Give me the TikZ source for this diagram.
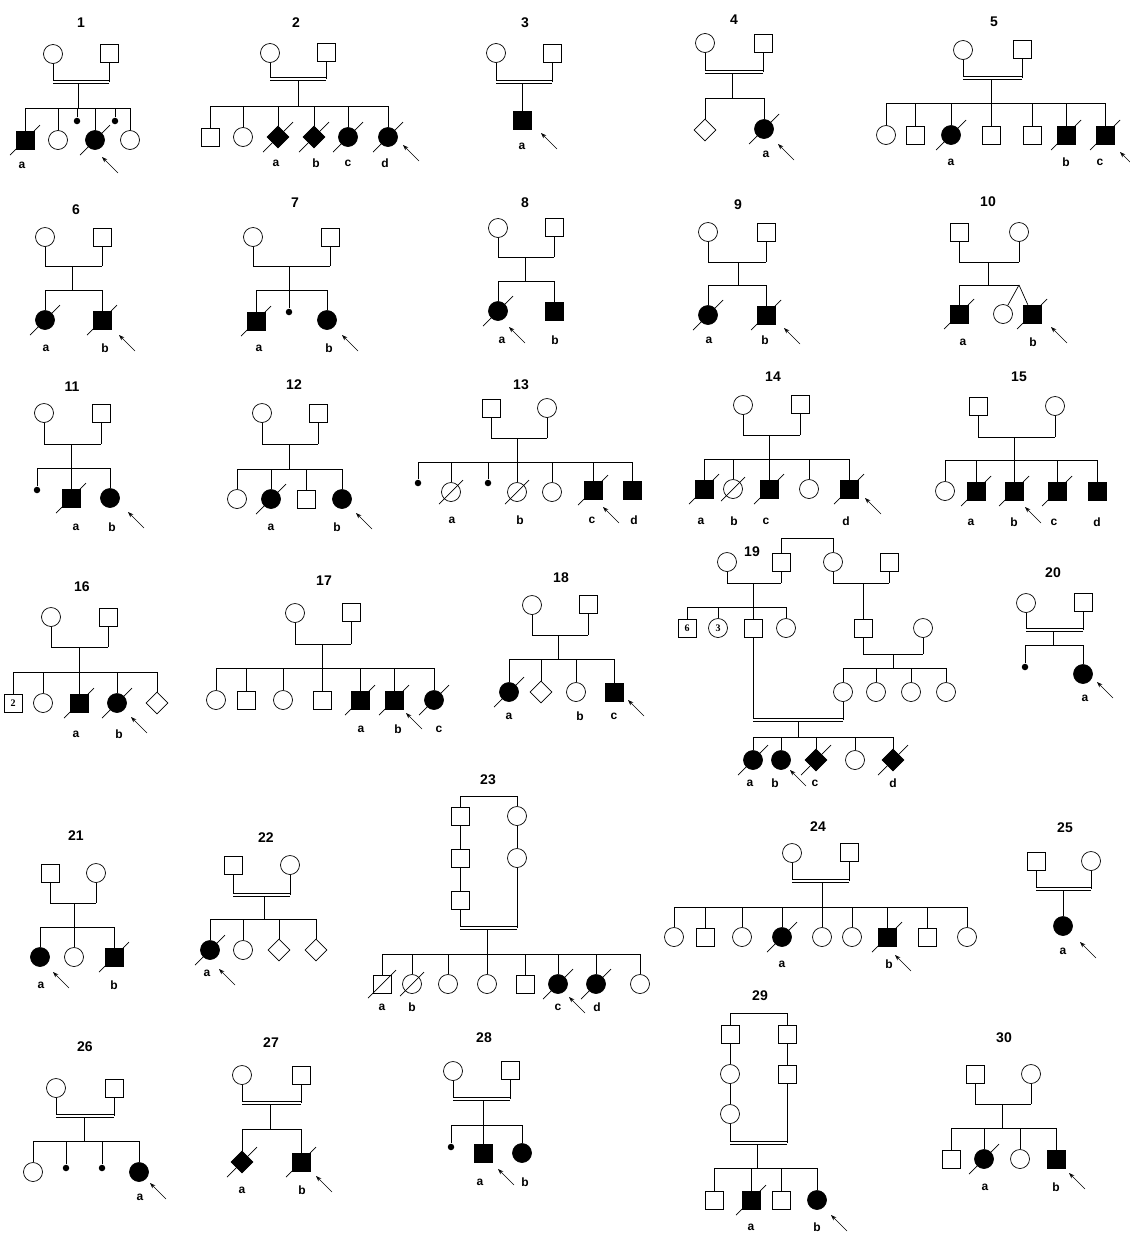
\documentclass[tikz,border=0pt]{standalone}
\usepackage{fontspec}
\setmainfont{Liberation Sans}
\newfontfamily\numfont{Liberation Serif}
\usetikzlibrary{arrows.meta,shapes.geometric}

\tikzset{
  ind/.style={draw,inner sep=0pt},
  male/.style={ind,rectangle,minimum size=18pt},
  fem/.style={ind,circle,minimum size=19pt},
  unk/.style={ind,diamond,minimum size=22pt},
  aff/.style={fill=black},
  loss/.style={circle,fill=black,inner sep=0pt,minimum size=6.5pt},
  ttl/.style={font=\fontsize{14}{16}\selectfont\bfseries},
  lab/.style={font=\fontsize{12}{14}\selectfont\bfseries},
  num/.style={font=\numfont\fontsize{10}{10}\selectfont\bfseries},
  dbl/.style={double,double distance=2pt,line width=0.6pt},
  arr/.style={-{Stealth[length=5.5pt,width=4pt]},line width=0.6pt}
}
% mating line: parents #2 and #3, line at the height of #4
\newcommand{\couple}[4][]{\draw (#2) -- (#2 |- #4); \draw (#3) -- (#3 |- #4); \draw[#1] (#2 |- #4) -- (#3 |- #4);}
% sibship line at #1 from #2 to #3, stems down to the list #4
\newcommand{\sibship}[4]{\draw (#2 |- #1) -- (#3 |- #1); \foreach \k in {#4} {\draw (\k) -- (\k |- #1);}}
% deceased slash and proband arrow
\newcommand{\dead}[2][15]{\draw (#2) ++(-#1,#1) -- ++(2*#1,-2*#1);}
\newcommand{\proband}[3]{\draw[arr] (#1) ++({#2+16},{#3+16}) -- ++(-16,-16);}

\begin{document}
\begin{tikzpicture}[x=1pt,y=-1pt,line width=0.7pt]
\useasboundingbox (0,0) rectangle (1130,1235);

% 1
\node[ttl] (t1) at (81,23) {1};
\node[fem] (mo1) at (53,54) {};
\node[male] (fa1) at (109,53) {};
\coordinate (mj1) at (78,82);
\coordinate (sj1) at (78,108);
\node[male,aff] (c1a) at (25,140) {};
\node[fem] (c1b) at (58,140) {};
\node[loss] (c1c) at (77,121) {};
\node[fem,aff] (c1d) at (95,140) {};
\node[loss] (c1e) at (115,121) {};
\node[fem] (c1f) at (130,140) {};
\draw (mj1) -- (sj1);
\couple[dbl]{mo1}{fa1}{mj1}
\sibship{sj1}{c1a}{c1f}{c1a,c1b,c1c,c1d,c1e,c1f}
\dead{c1a} \dead{c1d}
\proband{c1d}{7}{17}
\node[lab] (l1a) at (22,165) {a};

% 2
\node[ttl] (t2) at (296,23) {2};
\node[fem] (mo2) at (270,53) {};
\node[male] (fa2) at (326,52) {};
\coordinate (mj2) at (298,79);
\coordinate (sj2) at (298,106);
\node[male] (c2a) at (210,137) {};
\node[fem] (c2b) at (243,137) {};
\node[unk,aff] (c2c) at (278,137) {};
\node[unk,aff] (c2d) at (314,137) {};
\node[fem,aff] (c2e) at (348,137) {};
\node[fem,aff] (c2f) at (388,137) {};
\draw (mj2) -- (sj2);
\couple[dbl]{mo2}{fa2}{mj2}
\sibship{sj2}{c2a}{c2f}{c2a,c2b,c2c,c2d,c2e,c2f}
\dead{c2c} \dead{c2d} \dead{c2e} \dead{c2f}
\proband{c2f}{15}{8}
\node[lab] (l2a) at (276,163) {a};
\node[lab] (l2b) at (316,163) {b};
\node[lab] (l2c) at (348,163) {c};
\node[lab] (l2d) at (385,163) {d};

% 3
\node[ttl] (t3) at (525,23) {3};
\node[fem] (mo3) at (496,53) {};
\node[male] (fa3) at (552,53) {};
\coordinate (mj3) at (522,82);
\node[male,aff] (c3a) at (522,120) {};
\draw (mj3) -- (c3a);
\couple[dbl]{mo3}{fa3}{mj3}
\proband{c3a}{19}{13}
\node[lab] (l3a) at (522,146) {a};

% 4
\node[ttl] (t4) at (734,20) {4};
\node[fem] (mo4) at (705,43) {};
\node[male] (fa4) at (763,43) {};
\coordinate (mj4) at (732,72);
\coordinate (sj4) at (732,98);
\node[unk] (c4a) at (705,130) {};
\node[fem,aff] (c4b) at (764,129) {};
\draw (mj4) -- (sj4);
\couple[dbl]{mo4}{fa4}{mj4}
\sibship{sj4}{c4a}{c4b}{c4a,c4b}
\dead{c4b}
\proband{c4b}{14}{15}
\node[lab] (l4a) at (766,154) {a};

% 5
\node[ttl] (t5) at (994,22) {5};
\node[fem] (mo5) at (963,50) {};
\node[male] (fa5) at (1022,49) {};
\coordinate (mj5) at (991,78);
\coordinate (sj5) at (991,103);
\node[fem] (c5a) at (886,135) {};
\node[male] (c5b) at (915,135) {};
\node[fem,aff] (c5c) at (951,135) {};
\node[male] (c5d) at (991,135) {};
\node[male] (c5e) at (1032,135) {};
\node[male,aff] (c5f) at (1066,135) {};
\node[male,aff] (c5g) at (1105,135) {};
\draw (mj5) -- (sj5);
\couple[dbl]{mo5}{fa5}{mj5}
\sibship{sj5}{c5a}{c5g}{c5a,c5b,c5c,c5d,c5e,c5f,c5g}
\dead{c5c} \dead{c5f} \dead{c5g}
\proband{c5g}{15}{17}
\node[lab] (l5a) at (951,162) {a};
\node[lab] (l5b) at (1066,162) {b};
\node[lab] (l5c) at (1100,162) {c};

% 6
\node[ttl] (t6) at (76,210) {6};
\node[fem] (mo6) at (45,237) {};
\node[male] (fa6) at (102,237) {};
\coordinate (mj6) at (72,266);
\coordinate (sj6) at (72,290);
\node[fem,aff] (c6a) at (45,320) {};
\node[male,aff] (c6b) at (102,320) {};
\draw (mj6) -- (sj6);
\couple{mo6}{fa6}{mj6}
\sibship{sj6}{c6a}{c6b}{c6a,c6b}
\dead{c6a} \dead{c6b}
\proband{c6b}{17}{15}
\node[lab] (l6a) at (46,348) {a};
\node[lab] (l6b) at (105,348) {b};

% 7
\node[ttl] (t7) at (295,203) {7};
\node[fem] (mo7) at (253,237) {};
\node[male] (fa7) at (330,237) {};
\coordinate (mj7) at (289,266);
\coordinate (sj7) at (289,290);
\node[male,aff] (c7a) at (256,321) {};
\node[loss] (c7b) at (289,312) {};
\node[fem,aff] (c7c) at (327,320) {};
\draw (mj7) -- (sj7);
\couple{mo7}{fa7}{mj7}
\sibship{sj7}{c7a}{c7c}{c7a,c7b,c7c}
\dead{c7a}
\proband{c7c}{15}{15}
\node[lab] (l7a) at (259,348) {a};
\node[lab] (l7b) at (329,348) {b};

% 8
\node[ttl] (t8) at (525,203) {8};
\node[fem] (mo8) at (498,228) {};
\node[male] (fa8) at (554,227) {};
\coordinate (mj8) at (525,257);
\coordinate (sj8) at (525,281);
\node[fem,aff] (c8a) at (498,311) {};
\node[male,aff] (c8b) at (554,311) {};
\draw (mj8) -- (sj8);
\couple{mo8}{fa8}{mj8}
\sibship{sj8}{c8a}{c8b}{c8a,c8b}
\dead{c8a}
\proband{c8a}{11}{16}
\node[lab] (l8a) at (502,340) {a};
\node[lab] (l8b) at (555,340) {b};

% 9
\node[ttl] (t9) at (738,205) {9};
\node[fem] (mo9) at (708,232) {};
\node[male] (fa9) at (766,232) {};
\coordinate (mj9) at (738,262);
\coordinate (sj9) at (738,285);
\node[fem,aff] (c9a) at (708,315) {};
\node[male,aff] (c9b) at (766,315) {};
\draw (mj9) -- (sj9);
\couple{mo9}{fa9}{mj9}
\sibship{sj9}{c9a}{c9b}{c9a,c9b}
\dead{c9a} \dead{c9b}
\proband{c9b}{18}{13}
\node[lab] (l9a) at (709,340) {a};
\node[lab] (l9b) at (765,340) {b};

% 10 (twins)
\node[ttl] (t10) at (988,202) {10};
\node[male] (fa10) at (959,232) {};
\node[fem] (mo10) at (1019,232) {};
\coordinate (mj10) at (988,262);
\coordinate (sj10) at (988,285);
\coordinate (tw10) at (1019,285);
\node[male,aff] (c10a) at (959,314) {};
\node[fem] (c10b) at (1003,314) {};
\node[male,aff] (c10c) at (1032,314) {};
\draw (mj10) -- (sj10);
\couple{fa10}{mo10}{mj10}
\draw (c10a) -- (c10a |- sj10) -- (tw10);
\draw (tw10) -- (c10b);
\draw (tw10) -- (c10c);
\dead{c10a} \dead{c10c}
\proband{c10c}{19}{13}
\node[lab] (l10a) at (963,342) {a};
\node[lab] (l10b) at (1033,342) {b};

% 11
\node[ttl] (t11) at (72,387) {11};
\node[fem] (mo11) at (44,413) {};
\node[male] (fa11) at (101,413) {};
\coordinate (mj11) at (71,444);
\coordinate (sj11) at (71,468);
\node[loss] (c11a) at (37,490) {};
\node[male,aff] (c11b) at (71,498) {};
\node[fem,aff] (c11c) at (110,498) {};
\draw (mj11) -- (c11b);
\couple{mo11}{fa11}{mj11}
\sibship{sj11}{c11a}{c11c}{c11a,c11c}
\dead{c11b}
\proband{c11c}{18}{14}
\node[lab] (l11a) at (76,527) {a};
\node[lab] (l11b) at (112,527) {b};

% 12
\node[ttl] (t12) at (294,385) {12};
\node[fem] (mo12) at (262,413) {};
\node[male] (fa12) at (318,413) {};
\coordinate (mj12) at (289,444);
\coordinate (sj12) at (289,469);
\node[fem] (c12a) at (237,499) {};
\node[fem,aff] (c12b) at (271,499) {};
\node[male] (c12c) at (306,499) {};
\node[fem,aff] (c12d) at (342,499) {};
\draw (mj12) -- (sj12);
\couple{mo12}{fa12}{mj12}
\sibship{sj12}{c12a}{c12d}{c12a,c12b,c12c,c12d}
\dead{c12b}
\proband{c12d}{14}{14}
\node[lab] (l12a) at (271,527) {a};
\node[lab] (l12b) at (337,527) {b};

% 13
\node[ttl] (t13) at (521,385) {13};
\node[male] (fa13) at (491,408) {};
\node[fem] (mo13) at (547,408) {};
\coordinate (mj13) at (517,438);
\coordinate (sj13) at (517,462);
\node[loss] (c13a) at (418,483) {};
\node[fem] (c13b) at (451,492) {};
\node[loss] (c13c) at (488,483) {};
\node[fem] (c13d) at (517,492) {};
\node[fem] (c13e) at (552,492) {};
\node[male,aff] (c13f) at (593,490) {};
\node[male,aff] (c13g) at (632,490) {};
\draw (mj13) -- (sj13);
\couple{fa13}{mo13}{mj13}
\sibship{sj13}{c13a}{c13g}{c13a,c13b,c13c,c13d,c13e,c13f,c13g}
\dead[12]{c13b} \dead[12]{c13d} \dead{c13f}
\proband{c13f}{10}{17}
\node[lab] (l13a) at (452,520) {a};
\node[lab] (l13b) at (520,520) {b};
\node[lab] (l13c) at (592,520) {c};
\node[lab] (l13d) at (634,520) {d};

% 14
\node[ttl] (t14) at (773,377) {14};
\node[fem] (mo14) at (743,405) {};
\node[male] (fa14) at (800,404) {};
\coordinate (mj14) at (769,435);
\coordinate (sj14) at (769,459);
\node[male,aff] (c14a) at (704,489) {};
\node[fem] (c14b) at (733,489) {};
\node[male,aff] (c14c) at (769,489) {};
\node[fem] (c14d) at (809,489) {};
\node[male,aff] (c14e) at (849,489) {};
\draw (mj14) -- (sj14);
\couple{mo14}{fa14}{mj14}
\sibship{sj14}{c14a}{c14e}{c14a,c14b,c14c,c14d,c14e}
\dead{c14a} \dead[12]{c14b} \dead{c14c} \dead{c14e}
\proband{c14e}{16}{9}
\node[lab] (l14a) at (701,521) {a};
\node[lab] (l14b) at (734,521) {b};
\node[lab] (l14c) at (766,521) {c};
\node[lab] (l14d) at (846,521) {d};

% 15
\node[ttl] (t15) at (1019,377) {15};
\node[male] (fa15) at (978,406) {};
\node[fem] (mo15) at (1055,406) {};
\coordinate (mj15) at (1014,437);
\coordinate (sj15) at (1014,460);
\node[fem] (c15a) at (945,491) {};
\node[male,aff] (c15b) at (976,491) {};
\node[male,aff] (c15c) at (1014,491) {};
\node[male,aff] (c15d) at (1057,491) {};
\node[male,aff] (c15e) at (1097,491) {};
\draw (mj15) -- (sj15);
\couple{fa15}{mo15}{mj15}
\sibship{sj15}{c15a}{c15e}{c15a,c15b,c15c,c15d,c15e}
\dead{c15b} \dead{c15c} \dead{c15d}
\proband{c15c}{11}{16}
\node[lab] (l15a) at (971,522) {a};
\node[lab] (l15b) at (1014,522) {b};
\node[lab] (l15c) at (1054,522) {c};
\node[lab] (l15d) at (1097,522) {d};

% 16
\node[ttl] (t16) at (82,587) {16};
\node[fem] (mo16) at (51,617) {};
\node[male] (fa16) at (108,617) {};
\coordinate (mj16) at (79,647);
\coordinate (sj16) at (79,672);
\node[male,num] (c16a) at (13,703) {2};
\node[fem] (c16b) at (43,703) {};
\node[male,aff] (c16c) at (79,703) {};
\node[fem,aff] (c16d) at (117,703) {};
\node[unk] (c16e) at (157,703) {};
\draw (mj16) -- (sj16);
\couple{mo16}{fa16}{mj16}
\sibship{sj16}{c16a}{c16e}{c16a,c16b,c16c,c16d,c16e}
\dead{c16c} \dead{c16d}
\proband{c16d}{14}{14}
\node[lab] (l16a) at (76,734) {a};
\node[lab] (l16b) at (119,734) {b};

% 17
\node[ttl] (t17) at (324,581) {17};
\node[fem] (mo17) at (295,613) {};
\node[male] (fa17) at (351,612) {};
\coordinate (mj17) at (322,644);
\coordinate (sj17) at (322,668);
\node[fem] (c17a) at (216,700) {};
\node[male] (c17b) at (246,700) {};
\node[fem] (c17c) at (283,700) {};
\node[male] (c17d) at (322,700) {};
\node[male,aff] (c17e) at (360,700) {};
\node[male,aff] (c17f) at (394,700) {};
\node[fem,aff] (c17g) at (434,700) {};
\draw (mj17) -- (sj17);
\couple{mo17}{fa17}{mj17}
\sibship{sj17}{c17a}{c17g}{c17a,c17b,c17c,c17d,c17e,c17f,c17g}
\dead{c17e} \dead{c17f} \dead{c17g}
\proband{c17f}{12}{13}
\node[lab] (l17a) at (361,729) {a};
\node[lab] (l17b) at (398,729) {b};
\node[lab] (l17c) at (439,729) {c};

% 18
\node[ttl] (t18) at (561,578) {18};
\node[fem] (mo18) at (532,605) {};
\node[male] (fa18) at (588,604) {};
\coordinate (mj18) at (558,635);
\coordinate (sj18) at (558,659);
\node[fem,aff] (c18a) at (509,692) {};
\node[unk] (c18b) at (541,692) {};
\node[fem] (c18c) at (576,692) {};
\node[male,aff] (c18d) at (614,692) {};
\draw (mj18) -- (sj18);
\couple{mo18}{fa18}{mj18}
\sibship{sj18}{c18a}{c18d}{c18a,c18b,c18c,c18d}
\dead{c18a}
\proband{c18d}{14}{8}
\node[lab] (l18a) at (509,716) {a};
\node[lab] (l18b) at (580,716) {b};
\node[lab] (l18c) at (614,716) {c};

% 19
\node[ttl] (t19) at (752,552) {19};
\node[fem] (mo19a) at (727,562) {};
\node[male] (fa19a) at (781,562) {};
\node[fem] (mo19b) at (833,562) {};
\node[male] (fa19b) at (889,562) {};
\coordinate (br19) at (807,538);
\draw (fa19a) -- (fa19a |- br19) -- (mo19b |- br19) -- (mo19b);
\coordinate (mj19a) at (753,583);
\coordinate (sj19a) at (753,607);
\node[male,num] (c19a) at (687,628) {6};
\node[fem,num] (c19b) at (718,628) {3};
\node[male] (c19c) at (753,628) {};
\node[fem] (c19d) at (786,628) {};
\draw (mj19a) -- (sj19a);
\couple{mo19a}{fa19a}{mj19a}
\sibship{sj19a}{c19a}{c19d}{c19a,c19b,c19c,c19d}
\coordinate (mj19b) at (863,583);
\node[male] (fa19c) at (863,628) {};
\node[fem] (mo19c) at (923,628) {};
\draw (mj19b) -- (fa19c);
\couple{mo19b}{fa19b}{mj19b}
\coordinate (mj19c) at (893,654);
\coordinate (sj19c) at (893,668);
\node[fem] (c19e) at (843,692) {};
\node[fem] (c19f) at (876,692) {};
\node[fem] (c19g) at (911,692) {};
\node[fem] (c19h) at (946,692) {};
\draw (mj19c) -- (sj19c);
\couple{fa19c}{mo19c}{mj19c}
\sibship{sj19c}{c19e}{c19h}{c19e,c19f,c19g,c19h}
\coordinate (mj19d) at (798,720);
\coordinate (sj19d) at (798,737);
\node[fem,aff] (k19a) at (753,760) {};
\node[fem,aff] (k19b) at (781,760) {};
\node[unk,aff] (k19c) at (816,760) {};
\node[fem] (k19d) at (855,760) {};
\node[unk,aff] (k19e) at (893,760) {};
\draw (mj19d) -- (sj19d);
\couple[dbl]{c19c}{c19e}{mj19d}
\sibship{sj19d}{k19a}{k19e}{k19a,k19b,k19c,k19d,k19e}
\dead{k19a} \dead{k19c} \dead{k19e}
\proband{k19b}{9}{10}
\node[lab] (l19a) at (750,783) {a};
\node[lab] (l19b) at (775,783) {b};
\node[lab] (l19c) at (815,783) {c};
\node[lab] (l19d) at (893,783) {d};

% 20
\node[ttl] (t20) at (1053,573) {20};
\node[fem] (mo20) at (1026,603) {};
\node[male] (fa20) at (1083,602) {};
\coordinate (mj20) at (1053,630);
\coordinate (sj20) at (1053,645);
\node[loss] (c20a) at (1025,667) {};
\node[fem,aff] (c20b) at (1083,674) {};
\draw (mj20) -- (sj20);
\couple[dbl]{mo20}{fa20}{mj20}
\sibship{sj20}{c20a}{c20b}{c20a,c20b}
\proband{c20b}{14}{8}
\node[lab] (l20a) at (1085,698) {a};

% 21
\node[ttl] (t21) at (76,836) {21};
\node[male] (fa21) at (50,873) {};
\node[fem] (mo21) at (96,873) {};
\coordinate (mj21) at (74,903);
\coordinate (sj21) at (74,927);
\node[fem,aff] (c21a) at (40,957) {};
\node[fem] (c21b) at (74,957) {};
\node[male,aff] (c21c) at (114,957) {};
\draw (mj21) -- (sj21);
\couple{fa21}{mo21}{mj21}
\sibship{sj21}{c21a}{c21c}{c21a,c21b,c21c}
\dead{c21c}
\proband{c21a}{13}{15}
\node[lab] (l21a) at (41,985) {a};
\node[lab] (l21b) at (114,985) {b};

% 22
\node[ttl] (t22) at (266,838) {22};
\node[male] (fa22) at (233,865) {};
\node[fem] (mo22) at (290,865) {};
\coordinate (mj22) at (264,895);
\coordinate (sj22) at (264,919);
\node[fem,aff] (c22a) at (210,950) {};
\node[fem] (c22b) at (243,950) {};
\node[unk] (c22c) at (279,950) {};
\node[unk] (c22d) at (316,950) {};
\draw (mj22) -- (sj22);
\couple[dbl]{fa22}{mo22}{mj22}
\sibship{sj22}{c22a}{c22d}{c22a,c22b,c22c,c22d}
\dead{c22a}
\proband{c22a}{9}{19}
\node[lab] (l22a) at (207,973) {a};

% 23
\node[ttl] (t23) at (488,780) {23};
\coordinate (br23) at (488,796);
\node[male] (s23a) at (460,816) {};
\node[male] (s23b) at (460,858) {};
\node[male] (s23c) at (460,900) {};
\node[fem] (f23a) at (517,816) {};
\node[fem] (f23b) at (517,858) {};
\draw (s23a) -- (s23a |- br23) -- (f23a |- br23) -- (f23a);
\draw (s23a) -- (s23b);
\draw (s23b) -- (s23c);
\draw (f23a) -- (f23b);
\coordinate (mj23) at (487,928);
\coordinate (sj23) at (487,954);
\node[male] (c23a) at (382,984) {};
\node[fem] (c23b) at (412,984) {};
\node[fem] (c23c) at (448,984) {};
\node[fem] (c23d) at (487,984) {};
\node[male] (c23e) at (525,984) {};
\node[fem,aff] (c23f) at (558,984) {};
\node[fem,aff] (c23g) at (596,984) {};
\node[fem] (c23h) at (640,984) {};
\draw (mj23) -- (sj23);
\couple[dbl]{s23c}{f23b}{mj23}
\sibship{sj23}{c23a}{c23h}{c23a,c23b,c23c,c23d,c23e,c23f,c23g,c23h}
\dead[14]{c23a} \dead[12]{c23b} \dead{c23f} \dead{c23g}
\proband{c23f}{11}{13}
\node[lab] (l23a) at (382,1007) {a};
\node[lab] (l23b) at (412,1007) {b};
\node[lab] (l23c) at (558,1007) {c};
\node[lab] (l23d) at (597,1007) {d};

% 24
\node[ttl] (t24) at (818,827) {24};
\node[fem] (mo24) at (792,853) {};
\node[male] (fa24) at (849,852) {};
\coordinate (mj24) at (822,881);
\coordinate (sj24) at (822,907);
\node[fem] (c24a) at (674,937) {};
\node[male] (c24b) at (705,937) {};
\node[fem] (c24c) at (742,937) {};
\node[fem,aff] (c24d) at (782,937) {};
\node[fem] (c24e) at (822,937) {};
\node[fem] (c24f) at (852,937) {};
\node[male,aff] (c24g) at (887,937) {};
\node[male] (c24h) at (927,937) {};
\node[fem] (c24i) at (967,937) {};
\draw (mj24) -- (sj24);
\couple[dbl]{mo24}{fa24}{mj24}
\sibship{sj24}{c24a}{c24i}{c24a,c24b,c24c,c24d,c24e,c24f,c24g,c24h,c24i}
\dead{c24d} \dead{c24g}
\proband{c24g}{8}{18}
\node[lab] (l24a) at (782,964) {a};
\node[lab] (l24b) at (889,964) {b};

% 25
\node[ttl] (t25) at (1065,828) {25};
\node[male] (fa25) at (1036,861) {};
\node[fem] (mo25) at (1091,861) {};
\coordinate (mj25) at (1063,889);
\node[fem,aff] (c25a) at (1063,926) {};
\draw (mj25) -- (c25a);
\couple[dbl]{fa25}{mo25}{mj25}
\proband{c25a}{17}{16}
\node[lab] (l25a) at (1063,951) {a};

% 26
\node[ttl] (t26) at (85,1047) {26};
\node[fem] (mo26) at (56,1088) {};
\node[male] (fa26) at (114,1088) {};
\coordinate (mj26) at (84,1116);
\coordinate (sj26) at (84,1141);
\node[fem] (c26a) at (33,1172) {};
\node[loss] (c26b) at (66,1168) {};
\node[loss] (c26c) at (102,1168) {};
\node[fem,aff] (c26d) at (139,1172) {};
\draw (mj26) -- (sj26);
\couple[dbl]{mo26}{fa26}{mj26}
\sibship{sj26}{c26a}{c26d}{c26a,c26b,c26c,c26d}
\proband{c26d}{11}{11}
\node[lab] (l26a) at (140,1197) {a};

% 27
\node[ttl] (t27) at (271,1043) {27};
\node[fem] (mo27) at (242,1075) {};
\node[male] (fa27) at (301,1075) {};
\coordinate (mj27) at (270,1103);
\coordinate (sj27) at (270,1129);
\node[unk,aff] (c27a) at (242,1162) {};
\node[male,aff] (c27b) at (301,1162) {};
\draw (mj27) -- (sj27);
\couple[dbl]{mo27}{fa27}{mj27}
\sibship{sj27}{c27a}{c27b}{c27a,c27b}
\dead{c27a} \dead{c27b}
\proband{c27b}{15}{14}
\node[lab] (l27a) at (242,1190) {a};
\node[lab] (l27b) at (302,1190) {b};

% 28
\node[ttl] (t28) at (484,1038) {28};
\node[fem] (mo28) at (453,1071) {};
\node[male] (fa28) at (510,1070) {};
\coordinate (mj28) at (483,1099);
\coordinate (sj28) at (483,1125);
\node[loss] (c28a) at (451,1147) {};
\node[male,aff] (c28b) at (483,1153) {};
\node[fem,aff] (c28c) at (522,1153) {};
\draw (mj28) -- (c28b);
\couple[dbl]{mo28}{fa28}{mj28}
\sibship{sj28}{c28a}{c28c}{c28a,c28c}
\proband{c28b}{15}{16}
\node[lab] (l28a) at (480,1182) {a};
\node[lab] (l28b) at (525,1182) {b};

% 29
\node[ttl] (t29) at (760,996) {29};
\coordinate (br29) at (758,1013);
\node[male] (s29a) at (730,1034) {};
\node[fem] (s29b) at (730,1074) {};
\node[fem] (s29c) at (730,1114) {};
\node[male] (r29a) at (787,1034) {};
\node[male] (r29b) at (787,1074) {};
\draw (s29a) -- (s29a |- br29) -- (r29a |- br29) -- (r29a);
\draw (s29a) -- (s29b);
\draw (s29b) -- (s29c);
\draw (r29a) -- (r29b);
\coordinate (mj29) at (757,1143);
\coordinate (sj29) at (757,1168);
\node[male] (c29a) at (714,1200) {};
\node[male,aff] (c29b) at (751,1200) {};
\node[male] (c29c) at (781,1200) {};
\node[fem,aff] (c29d) at (817,1200) {};
\draw (mj29) -- (sj29);
\couple[dbl]{s29c}{r29b}{mj29}
\sibship{sj29}{c29a}{c29d}{c29a,c29b,c29c,c29d}
\dead{c29b}
\proband{c29d}{14}{15}
\node[lab] (l29a) at (751,1227) {a};
\node[lab] (l29b) at (817,1227) {b};

% 30
\node[ttl] (t30) at (1004,1038) {30};
\node[male] (fa30) at (975,1074) {};
\node[fem] (mo30) at (1031,1074) {};
\coordinate (mj30) at (1002,1104);
\coordinate (sj30) at (1002,1128);
\node[male] (c30a) at (951,1159) {};
\node[fem,aff] (c30b) at (984,1159) {};
\node[fem] (c30c) at (1020,1159) {};
\node[male,aff] (c30d) at (1056,1159) {};
\draw (mj30) -- (sj30);
\couple{fa30}{mo30}{mj30}
\sibship{sj30}{c30a}{c30d}{c30a,c30b,c30c,c30d}
\dead{c30b}
\proband{c30d}{13}{14}
\node[lab] (l30a) at (985,1187) {a};
\node[lab] (l30b) at (1056,1187) {b};
\end{tikzpicture}
\end{document}
